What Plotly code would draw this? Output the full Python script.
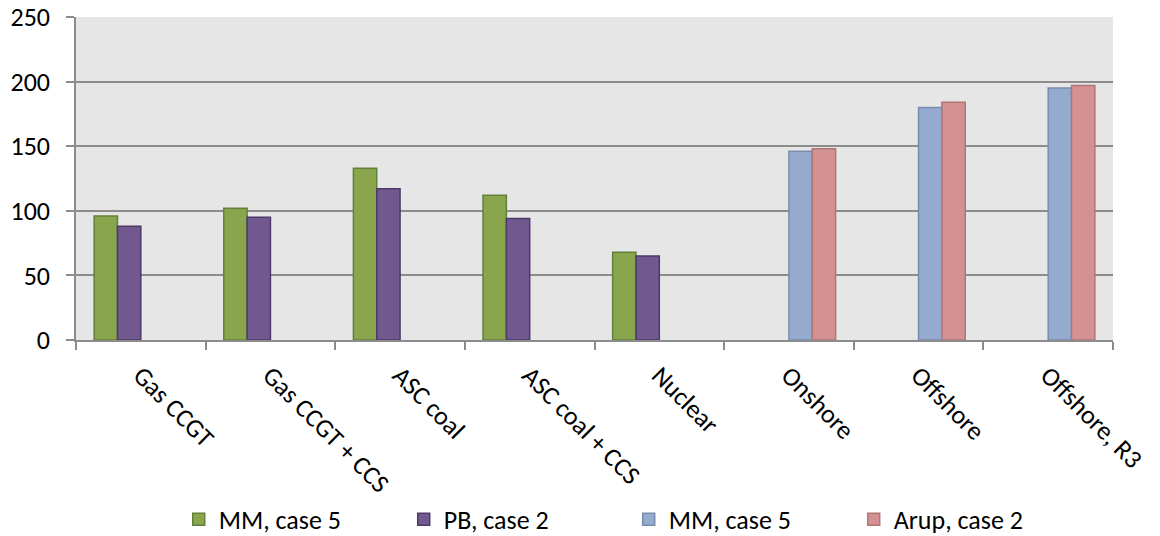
import plotly.graph_objects as go

categories = ["Gas CCGT", "Gas CCGT + CCS", "ASC coal", "ASC coal + CCS",
              "Nuclear", "Onshore", "Offshore", "Offshore, R3"]

mm_case5_thermal = [96, 102, 133, 112, 68, None, None, None]
pb_case2 = [88, 95, 117, 94, 65, None, None, None]
mm_case5_wind = [None, None, None, None, None, 146, 180, 195]
arup_case2 = [None, None, None, None, None, 148, 184, 197]

series = [
    ("MM, case 5", mm_case5_thermal, "#8aa64c", "#63803a"),
    ("PB, case 2", pb_case2, "#71588f", "#4c3a68"),
    ("MM, case 5", mm_case5_wind, "#95aacf", "#7a8cae"),
    ("Arup, case 2", arup_case2, "#d39191", "#b07575"),
]

FONT = "Carlito, Lato, Open Sans, sans-serif"
AXIS_GREY = "#8c8c8c"

fig = go.Figure()
for name, vals, fill, edge in series:
    fig.add_trace(go.Bar(
        name=name, x=categories, y=vals,
        marker=dict(color=fill, line=dict(color=edge, width=1.5)),
    ))

fig.update_layout(
    width=1160, height=536,
    margin=dict(l=76, r=47, t=17, b=196, autoexpand=False),
    paper_bgcolor="white",
    plot_bgcolor="#e6e6e6",
    barmode="group",
    bargap=0.28,
    bargroupgap=0,
    font=dict(family=FONT, size=26, color="black"),
    legend=dict(
        orientation="h", x=0.533, xanchor="center", y=-0.555, yanchor="middle",
        font=dict(size=26), entrywidth=180, entrywidthmode="pixels",
        itemclick=False,
    ),
)

fig.update_xaxes(
    type="category",
    automargin=False,
    tickangle=45,
    tickson="boundaries",
    ticks="outside", ticklen=8, tickcolor=AXIS_GREY, tickwidth=1.5,
    showline=True, linecolor=AXIS_GREY, linewidth=1.5,
    showgrid=False,
    ticklabelstandoff=8,
    tickfont=dict(size=26),
)
fig.update_yaxes(
    automargin=False,
    range=[0, 250], dtick=50,
    ticks="outside", ticklen=8, tickcolor=AXIS_GREY, tickwidth=1.5,
    showline=True, linecolor=AXIS_GREY, linewidth=1.5,
    showgrid=True, gridcolor=AXIS_GREY, gridwidth=1.5,
    zeroline=False,
    ticklabelstandoff=11,
    tickfont=dict(size=26),
)

fig.write_html("out.html")
